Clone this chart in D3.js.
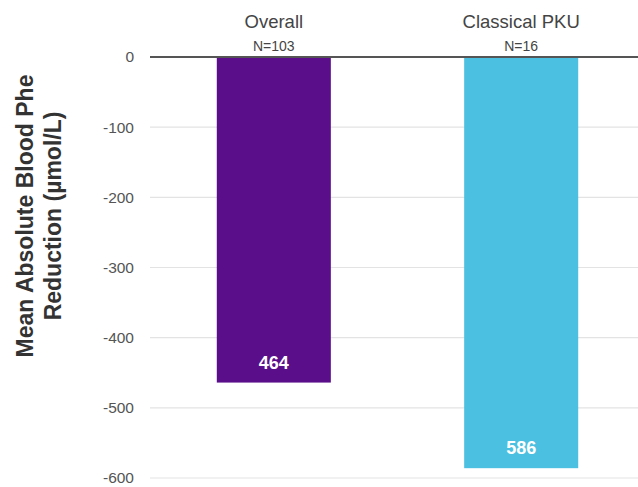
<!DOCTYPE html>
<html><head><meta charset="utf-8">
<script src="https://cdn.jsdelivr.net/npm/d3@7/dist/d3.min.js"></script>
<style>body{margin:0;background:#fff}svg{display:block}text{font-family:"Liberation Sans",Arial,sans-serif}</style>
</head><body>
<svg id="c" width="638" height="487"></svg>
<script>
const categories = ["Overall", "Classical PKU"];
const sampleSizes = ["N=103", "N=16"];
const values = [-464, -586];
const barColors = ["#5a0e8a", "#4bc0e0"];
const yTicks = [0, -100, -200, -300, -400, -500, -600];
const yTitle = ["Mean Absolute Blood Phe", "Reduction (µmol/L)"];

const svg = d3.select("#c");
const x = d3.scaleBand().domain(categories).range([150, 645]).paddingInner(0.539).paddingOuter(0.27);
const y = d3.scaleLinear().domain([0, -600]).range([57, 478]);

// gridlines
svg.append("g").selectAll("line").data(yTicks.filter(d => d !== 0)).join("line")
  .attr("x1", 150).attr("x2", 638)
  .attr("y1", d => y(d)).attr("y2", d => y(d))
  .attr("stroke", "#e3e3e3").attr("stroke-width", 1.2);

// y axis labels
const yAxis = d3.axisLeft(y).tickValues(yTicks).tickSize(0).tickPadding(0).tickFormat(d => String(d));
const ga = svg.append("g").attr("transform", "translate(134,0)").call(yAxis);
ga.select(".domain").remove();
ga.selectAll("text").attr("font-size", 15.5).attr("fill", "#555")
  .attr("font-family", "'Liberation Sans', Arial, sans-serif");

// bars
svg.append("g").selectAll("rect").data(values).join("rect")
  .attr("x", (d, i) => x(categories[i]))
  .attr("width", x.bandwidth())
  .attr("y", y(0))
  .attr("height", d => y(d) - y(0))
  .attr("fill", (d, i) => barColors[i]);

// zero line
svg.append("line").attr("x1", 150).attr("x2", 638).attr("y1", y(0)).attr("y2", y(0))
  .attr("stroke", "#555").attr("stroke-width", 2);

// value labels
svg.append("g").selectAll("text").data(values).join("text")
  .attr("x", (d, i) => x(categories[i]) + x.bandwidth() / 2)
  .attr("y", d => y(d) - 14)
  .attr("text-anchor", "middle").attr("font-size", 18).attr("font-weight", "bold")
  .attr("fill", "#fff").text(d => Math.abs(d));

// category labels
svg.append("g").selectAll("text").data(categories).join("text")
  .attr("x", d => x(d) + x.bandwidth() / 2).attr("y", 28)
  .attr("text-anchor", "middle").attr("font-size", 18.5).attr("fill", "#444").text(d => d);
svg.append("g").selectAll("text").data(sampleSizes).join("text")
  .attr("x", (d, i) => x(categories[i]) + x.bandwidth() / 2).attr("y", 51)
  .attr("text-anchor", "middle").attr("font-size", 14).attr("fill", "#444").text(d => d);

// y title
const t = svg.append("text").attr("transform", "translate(33,216) rotate(-90)")
  .attr("text-anchor", "middle").attr("font-size", 23).attr("font-weight", "bold").attr("fill", "#333");
t.selectAll("tspan").data(yTitle).join("tspan")
  .attr("x", 0).attr("dy", (d, i) => i === 0 ? 0 : 28).text(d => d);
</script>
</body></html>
